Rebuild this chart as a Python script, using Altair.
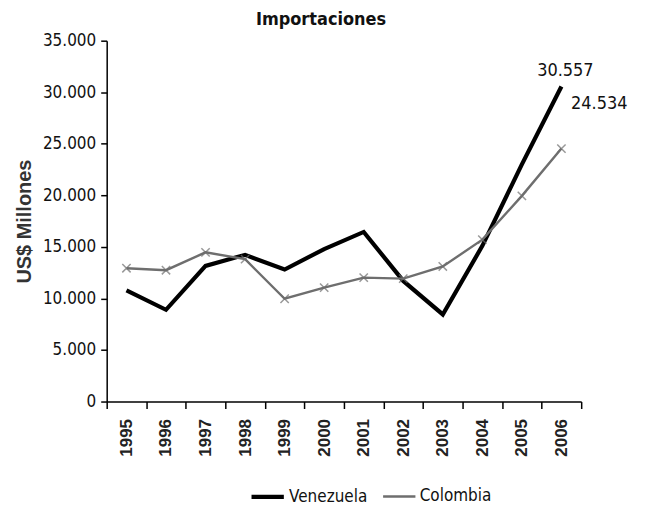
import altair as alt
import pandas as pd

years = ["1995", "1996", "1997", "1998", "1999", "2000",
         "2001", "2002", "2003", "2004", "2005", "2006"]
venezuela = [10780, 8900, 13160, 14230, 12800, 14790,
             16450, 11700, 8450, 15100, 23000, 30557]
colombia = [12930, 12740, 14470, 13810, 9970, 11050,
            12020, 11920, 13100, 15700, 19950, 24534]
series = ["Venezuela", "Colombia"]
colors = ["#000000", "#6e6e6e"]
widths = [4.2, 2.4]

rows = []
for i, y in enumerate(years):
    rows.append({"year": y, "country": "Venezuela", "value": venezuela[i]})
    rows.append({"year": y, "country": "Colombia", "value": colombia[i]})
df = pd.DataFrame(rows)
df["label"] = df["value"].map(lambda v: f"{v:,}".replace(",", "."))

FONT = "DejaVu Sans Condensed, Liberation Sans Narrow, Liberation Sans, sans-serif"
FONTW = "Liberation Sans, Arial, sans-serif"

x_enc = alt.X(
    "year:O",
    sort=years,
    scale=alt.Scale(paddingInner=0, paddingOuter=0),
    axis=alt.Axis(
        title=None,
        labelAngle=270,
        labelAlign="right",
        labelBaseline="middle",
        labelFont=FONTW,
        labelFontWeight="bold",
        labelFontSize=17,
        labelColor="#222222",
        labelPadding=10,
        tickBand="extent",
        tickSize=7,
        tickColor="#000000",
        tickWidth=1.5,
        domainColor="#000000",
        domainWidth=1.5,
        grid=False,
    ),
)
y_enc = alt.Y(
    "value:Q",
    scale=alt.Scale(domain=[0, 35000], nice=False),
    axis=alt.Axis(
        title="US$ Millones",
        titleFont=FONTW,
        titleFontSize=20,
        titleFontWeight="bold",
        titleColor="#333333",
        titlePadding=8,
        values=[0, 5000, 10000, 15000, 20000, 25000, 30000, 35000],
        labelExpr="replace(format(datum.value, ','), ',', '.')",
        labelFont=FONT,
        labelFontSize=17,
        labelColor="#111111",
        labelPadding=5,
        tickSize=6,
        tickColor="#000000",
        tickWidth=1.5,
        domainColor="#000000",
        domainWidth=1.5,
        grid=False,
    ),
)

base = alt.Chart(df).encode(x=x_enc, y=y_enc)

lines = base.mark_line(strokeJoin="miter").encode(
    color=alt.Color(
        "country:N",
        scale=alt.Scale(domain=series, range=colors),
        legend=alt.Legend(
            title=None,
            orient="none",
            legendX=148,
            legendY=444,
            direction="horizontal",
            symbolType="M-1.45,0L1.45,0",
            symbolSize=500,
            symbolStrokeWidth=4,
            labelFont=FONT,
            labelFontSize=17,
            labelColor="#111111",
            labelOffset=8,
            columnPadding=10,
        ),
    ),
    strokeWidth=alt.StrokeWidth(
        "country:N",
        scale=alt.Scale(domain=series, range=widths),
        legend=None,
    ),
)

points = base.transform_filter(alt.datum.country == "Colombia").mark_point(
    shape="M-1,-1L1,1M-1,1L1,-1",
    filled=False,
    size=70,
    color="#6e6e6e",
    strokeWidth=1.5,
)

lab_v = base.transform_filter(
    (alt.datum.country == "Venezuela") & (alt.datum.year == "2006")
).mark_text(font=FONT, fontSize=18, color="#111111", dy=-16, dx=4).encode(text="label:N")

lab_c = base.transform_filter(
    (alt.datum.country == "Colombia") & (alt.datum.year == "2006")
).mark_text(font=FONT, fontSize=18, color="#111111", dy=-45, dx=38).encode(text="label:N")

chart = alt.layer(lines, points, lab_v, lab_c).properties(
    width=476,
    height=362,
    autosize=alt.AutoSizeParams(type="none"),
    padding={"left": 99, "top": 32, "right": 60, "bottom": 104},
    title=alt.Title(
        "Importaciones",
        font=FONT,
        fontSize=18,
        fontWeight="bold",
        color="#111111",
        anchor="middle",
        dx=-23,
        offset=3,
    ),
).configure_view(stroke=None)

chart.save("out.html", embed_options={"renderer": "svg", "actions": False})
